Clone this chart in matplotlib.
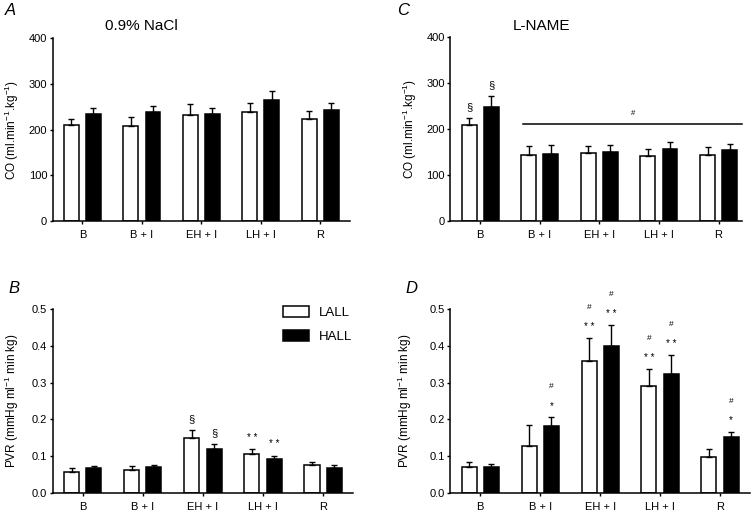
import matplotlib.pyplot as plt
import numpy as np

plt.rcParams.update({
    "font.family": ["Liberation Sans", "DejaVu Sans"],
    "font.size": 8,
    "xtick.labelsize": 8,
    "ytick.labelsize": 8,
    "axes.linewidth": 1.1,
    "mathtext.default": "regular",
})

groups = ["B", "B + I", "EH + I", "LH + I", "R"]
series_names = ["LALL", "HALL"]

# panel A: CO, 0.9% NaCl
co_nacl_lall = [210, 207, 232, 238, 222]
co_nacl_lall_err = [14, 20, 24, 20, 19]
co_nacl_hall = [235, 238, 234, 265, 243]
co_nacl_hall_err = [12, 14, 13, 20, 15]

# panel C: CO, L-NAME
co_lname_lall = [208, 144, 148, 141, 143]
co_lname_lall_err = [15, 19, 15, 16, 18]
co_lname_hall = [247, 146, 150, 157, 153]
co_lname_hall_err = [24, 19, 14, 15, 14]

# panel B: PVR, 0.9% NaCl
pvr_nacl_lall = [0.058, 0.062, 0.150, 0.107, 0.077]
pvr_nacl_lall_err = [0.009, 0.012, 0.022, 0.012, 0.008]
pvr_nacl_hall = [0.069, 0.071, 0.120, 0.093, 0.069]
pvr_nacl_hall_err = [0.005, 0.005, 0.012, 0.009, 0.007]

# panel D: PVR, L-NAME
pvr_lname_lall = [0.071, 0.129, 0.358, 0.291, 0.099]
pvr_lname_lall_err = [0.013, 0.055, 0.064, 0.046, 0.022]
pvr_lname_hall = [0.071, 0.182, 0.400, 0.325, 0.151]
pvr_lname_hall_err = [0.007, 0.024, 0.056, 0.051, 0.016]

# significance marks: (group index, series index, symbols bottom -> top)
marks_co_lname = [(0, 0, ["§"]), (0, 1, ["§"])]
marks_pvr_nacl = [(2, 0, ["§"]), (2, 1, ["§"]), (3, 0, ["* *"]), (3, 1, ["* *"])]
marks_pvr_lname = [
    (1, 1, ["*", "#"]),
    (2, 0, ["* *", "#"]), (2, 1, ["* *", "#"]),
    (3, 0, ["* *", "#"]), (3, 1, ["* *", "#"]),
    (4, 1, ["*", "#"]),
]
# "#" bar in panel C: x from, x to, level
co_lname_line = (0.72, 4.4, 210)

co_label = "CO (ml.min$^{-1}$.kg$^{-1}$)"
pvr_label = "PVR (mmHg ml$^{-1}$ min kg)"

fig = plt.figure(figsize=(7.53, 5.15), dpi=100)

offset = 0.185
width = 0.25


def draw_panel(ax, lall, lall_err, hall, hall_err, ylim, yticks, fmt, ylabel, xmax, marks):
    x = np.arange(len(groups))
    for i, (vals, errs, fc) in enumerate([(lall, lall_err, "white"), (hall, hall_err, "black")]):
        xs = x + (offset if i else -offset)
        ax.bar(xs, vals, width=width, color=fc, edgecolor="black", linewidth=1.1,
               label=series_names[i], zorder=2)
        ax.errorbar(xs, vals, yerr=[np.zeros(len(vals)), errs], fmt="none",
                    ecolor="black", elinewidth=1.0, capsize=2.5, capthick=1.0, zorder=3)
    for g, s, syms in marks:
        vals, errs = (lall, lall_err) if s == 0 else (hall, hall_err)
        xm = g + (offset if s else -offset)
        ym = vals[g] + errs[g]
        for sym in syms:
            if sym == "§":
                dy, fs = 8, 8
            elif sym == "#":
                dy, fs = 22, 6
            else:
                dy, fs = 8, 7
            ax.annotate(sym, (xm, ym), xytext=(0, dy), textcoords="offset points",
                        ha="center", va="center", fontsize=fs)
    ax.set_xlim(-0.5, xmax)
    ax.set_ylim(*ylim)
    ax.set_yticks(yticks)
    ax.set_yticklabels([fmt.format(v) for v in yticks])
    ax.set_xticks(x)
    ax.set_xticklabels(groups)
    ax.spines["top"].set_visible(False)
    ax.spines["right"].set_visible(False)
    ax.tick_params(axis="x", direction="out", length=2.5, width=1.0, pad=4)
    ax.tick_params(axis="y", direction="out", length=2, width=1.0, pad=2)
    ax.set_ylabel(ylabel, fontsize=8.5)


ax_a = fig.add_axes([0.070, 0.571, 0.395, 0.355])
draw_panel(ax_a, co_nacl_lall, co_nacl_lall_err, co_nacl_hall, co_nacl_hall_err,
           (0, 400), [0, 100, 200, 300, 400], "{:.0f}", co_label, 4.5, [])
ax_a.yaxis.set_label_coords(-0.105, 0.5)
ax_a.text(0.297, 1.027, "0.9% NaCl", transform=ax_a.transAxes, ha="center", va="bottom", fontsize=11)

ax_c = fig.add_axes([0.598, 0.571, 0.388, 0.358])
draw_panel(ax_c, co_lname_lall, co_lname_lall_err, co_lname_hall, co_lname_hall_err,
           (0, 400), [0, 100, 200, 300, 400], "{:.0f}", co_label, 4.4, marks_co_lname)
ax_c.yaxis.set_label_coords(-0.108, 0.5)
ax_c.text(0.311, 1.022, "L-NAME", transform=ax_c.transAxes, ha="center", va="bottom", fontsize=11)
x0, x1, lvl = co_lname_line
ax_c.plot([x0, x1], [lvl, lvl], color="black", lw=1.1, clip_on=False)
ax_c.annotate("#", ((x0 + x1) / 2, lvl), xytext=(0, 7.5), textcoords="offset points",
              ha="center", va="center", fontsize=5.5)

ax_b = fig.add_axes([0.070, 0.0427, 0.399, 0.357])
draw_panel(ax_b, pvr_nacl_lall, pvr_nacl_lall_err, pvr_nacl_hall, pvr_nacl_hall_err,
           (0, 0.5), [0, 0.1, 0.2, 0.3, 0.4, 0.5], "{:.1f}", pvr_label, 4.5, marks_pvr_nacl)
ax_b.yaxis.set_label_coords(-0.105, 0.5)
ax_b.legend(loc="upper left", bbox_to_anchor=(0.726, 1.081), frameon=False, fontsize=9.5,
            handlelength=2.0, handleheight=0.85, handletextpad=0.75, labelspacing=0.85)

ax_d = fig.add_axes([0.598, 0.0427, 0.398, 0.357])
draw_panel(ax_d, pvr_lname_lall, pvr_lname_lall_err, pvr_lname_hall, pvr_lname_hall_err,
           (0, 0.5), [0, 0.1, 0.2, 0.3, 0.4, 0.5], "{:.1f}", pvr_label, 4.5, marks_pvr_lname)
ax_d.yaxis.set_label_coords(-0.12, 0.5)

for lx, ly, t in [(0.006, 0.979, "A"), (0.527, 0.979, "C"), (0.011, 0.44, "B"), (0.539, 0.44, "D")]:
    fig.text(lx, ly, t, fontsize=12, fontstyle="italic", ha="left", va="center")

fig.savefig("out.png", dpi=100)
